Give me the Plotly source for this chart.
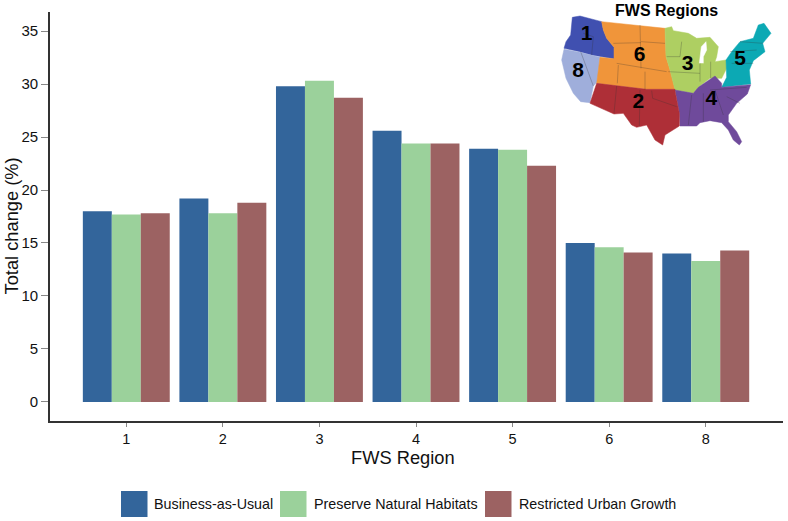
import plotly.graph_objects as go

regions = ["1", "2", "3", "4", "5", "6", "8"]
bau = [18.0, 19.2, 29.8, 25.6, 23.9, 15.0, 14.0]
pnh = [17.7, 17.8, 30.3, 24.4, 23.8, 14.6, 13.3]
rug = [17.8, 18.8, 28.7, 24.4, 22.3, 14.1, 14.3]
series_names = ["Business-as-Usual", "Preserve Natural Habitats", "Restricted Urban Growth"]
series_colors = ["#33659B", "#9BD19B", "#9C6262"]
yticks = [0, 5, 10, 15, 20, 25, 30, 35]

W, H = 788, 521
L, R, T, B = 50, 783, 12, 421

map_regions = {
    "1": ("#4050B0", [(97,52),(120,48),(185,65),(190,90),(200,115),(222,142),(222,176),(180,170),(155,165),(120,155),(72,145),(78,125),(92,105)]),
    "8": ("#9FAEDB", [(72,148),(120,157),(180,172),(172,245),(160,258),(150,308),(122,305),(100,280),(78,235),(65,180)]),
    "6": ("#F0953A", [(185,65),(375,85),(378,170),(390,210),(405,268),(320,268),(170,250),(180,172),(222,176),(222,142),(200,115),(190,90)]),
    "3": ("#AECF62", [(375,85),(395,80),(400,92),(445,100),(470,115),(510,112),(535,140),(530,170),(525,185),(558,180),(560,205),(545,235),(510,235),(475,262),(460,280),(405,270),(390,210),(378,170)]),
    "5": ("#0CA9B4", [(655,75),(672,70),(693,100),(668,130),(675,155),(640,182),(628,210),(632,252),(545,262),(560,232),(558,180),(575,155),(600,125),(640,115)]),
    "4": ("#6F4A9B", [(405,270),(460,280),(475,262),(510,238),(525,228),(545,250),(545,262),(632,254),(622,282),(590,310),(565,345),(565,365),(590,395),(605,425),(598,435),(580,420),(565,390),(545,368),(510,362),(480,368),(470,378),(420,378),(418,340)]),
    "2": ("#AE2F37", [(170,250),(320,268),(405,268),(405,272),(418,340),(418,378),(375,405),(368,435),(345,420),(320,375),(290,382),(275,375),(250,340),(222,342),(150,310)]),
}
lake = [(478,190),(484,140),(498,125),(500,150),(490,170),(490,190)]
borders = [
    [(155,165),(160,110),(130,100)], [(122,155),(160,258)],
    [(230,190),(380,215)], [(235,195),(232,250)], [(300,75),(303,205)], [(303,125),(375,130)],
    [(315,215),(315,268)], [(220,130),(303,128)],
    [(425,125),(420,170),(380,170)], [(385,215),(480,220)], [(480,190),(480,245)], [(512,185),(512,235)],
    [(230,258),(222,340)], [(300,270),(298,378)], [(335,272),(338,295),(410,320)],
    [(455,285),(445,375)], [(490,280),(490,365)], [(525,270),(550,345)], [(510,270),(620,262)],
    [(560,290),(600,310)], [(600,125),(670,130)], [(575,190),(640,190)], [(570,155),(650,150)],
]
map_labels = [("1",140,105),("6",299,168),("3",443,193),("5",600,180),("8",114,214),("2",295,308),("4",514,300)]

fig = go.Figure()
for name, vals, color in zip(series_names, [bau, pnh, rug], series_colors):
    fig.add_trace(go.Bar(x=regions, y=vals, name=name, marker=dict(color=color, line_width=0),
                         showlegend=False))

for key, (color, pts) in map_regions.items():
    fig.add_trace(go.Scatter(x=[p[0] for p in pts] + [pts[0][0]], y=[p[1] for p in pts] + [pts[0][1]],
                             fill="toself", fillcolor=color, mode="lines", line=dict(color=color, width=0.5),
                             xaxis="x2", yaxis="y2", showlegend=False, hoverinfo="skip"))
fig.add_trace(go.Scatter(x=[p[0] for p in lake], y=[p[1] for p in lake], fill="toself", fillcolor="white",
                         mode="lines", line=dict(color="white", width=0.5), xaxis="x2", yaxis="y2",
                         showlegend=False, hoverinfo="skip"))
for seg in borders:
    fig.add_trace(go.Scatter(x=[p[0] for p in seg], y=[p[1] for p in seg], mode="lines",
                             line=dict(color="rgba(50,50,50,0.45)", width=0.6), xaxis="x2", yaxis="y2",
                             showlegend=False, hoverinfo="skip"))
fig.add_trace(go.Scatter(x=[m[1] for m in map_labels], y=[m[2] for m in map_labels], mode="text",
                         text=[m[0] for m in map_labels],
                         textfont=dict(family="Liberation Sans", size=21, color="black", weight="bold"),
                         xaxis="x2", yaxis="y2", showlegend=False, hoverinfo="skip"))

def px(x):
    return (x - L) / (R - L)

def py(y):
    return (B - y) / (B - T)

shapes, annotations = [], []
legend_layout = [(121, 152), (280, 312), (485, 517)]
for (sx, tx), name, color in zip(legend_layout, series_names, series_colors):
    shapes.append(dict(type="rect", xref="paper", yref="paper",
                       x0=px(sx), x1=px(sx + 26.5), y0=py(517), y1=py(491),
                       fillcolor=color, line_width=0))
    annotations.append(dict(text=name, xref="paper", yref="paper", x=px(tx), y=py(504.5),
                            xanchor="left", yanchor="middle", showarrow=False,
                            font=dict(family="Liberation Sans", size=14.3, color="#111")))
annotations.append(dict(text="<b>FWS Regions</b>", xref="paper", yref="paper", x=px(666),
                        y=py(10), xanchor="center", yanchor="middle", showarrow=False,
                        font=dict(family="Liberation Sans", size=16, color="black")))
annotations.append(dict(text="FWS Region", xref="paper", yref="paper", x=px(403), y=py(457),
                        xanchor="center", yanchor="middle", showarrow=False,
                        font=dict(family="Liberation Sans", size=18.3, color="#111")))
annotations.append(dict(text="Total change (%)", xref="paper", yref="paper", x=px(11), y=py(226.5),
                        xanchor="center", yanchor="middle", showarrow=False, textangle=-90,
                        font=dict(family="Liberation Sans", size=18.3, color="#111")))

fig.update_layout(
    width=W, height=H, autosize=False, barmode="group", bargap=0.1, bargroupgap=0,
    margin=dict(l=L, r=W - R, t=T, b=H - B, pad=0),
    plot_bgcolor="white", paper_bgcolor="white", showlegend=False,
    font=dict(family="Liberation Sans", color="#111", size=14),
    shapes=shapes, annotations=annotations,
    xaxis=dict(type="category", categoryorder="array", categoryarray=regions,
               range=[-0.79, 6.80], showgrid=False, zeroline=False,
               showline=True, linecolor="#333", linewidth=1.7,
               ticks="outside", ticklen=4, tickcolor="#888", tickwidth=1,
               tickfont=dict(size=14.5)),
    yaxis=dict(range=[-1.8, 36.8], tickvals=yticks, showgrid=False, zeroline=False,
               showline=True, linecolor="#333", linewidth=1.7,
               ticks="outside", ticklen=7, tickcolor="#888", tickwidth=1,
               tickfont=dict(size=15)),
    xaxis2=dict(domain=[px(540), 1], range=[0, 729], visible=False, anchor="y2", fixedrange=True),
    yaxis2=dict(domain=[py(160), 1], range=[480, 36], visible=False, anchor="x2", fixedrange=True),
)
fig.write_html("out.html", config={"displayModeBar": False},
               post_script="document.body.style.margin='0';document.documentElement.style.overflow='hidden';")
